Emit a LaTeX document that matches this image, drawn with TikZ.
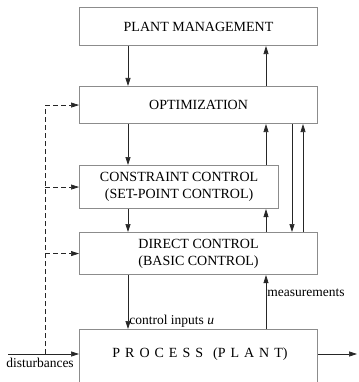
\documentclass[tikz,border=0pt]{standalone}
\usepackage{fontspec}
\setmainfont{Liberation Serif}
\usetikzlibrary{arrows.meta}
\begin{document}
\begin{tikzpicture}[x=1pt,y=-1pt,
  box/.style={draw=black!45,line width=1.1pt,inner sep=0pt,align=center,
    font=\fontsize{14}{17}\selectfont},
  arr/.style={draw=black!85,line width=0.7pt,-{Triangle[length=8pt,width=5pt]}},
  darr/.style={arr,dash pattern=on 5pt off 3pt},
  dline/.style={draw=black!85,line width=0.7pt,dash pattern=on 5pt off 3pt},
  lbl/.style={font=\fontsize{13.5}{16}\selectfont,inner sep=1pt}]
\useasboundingbox (0,0) rectangle (358,382);
\clip (0,0) rectangle (358,382);
\node[box,minimum width=238pt,minimum height=38pt,anchor=north west] (pm) at (79,7) {PLANT MANAGEMENT};
\node[box,minimum width=238pt,minimum height=37pt,anchor=north west] (opt) at (79,86) {OPTIMIZATION};
\node[box,minimum width=199pt,minimum height=43pt,anchor=north west] (cc) at (79,165) {CONSTRAINT CONTROL\\(SET-POINT CONTROL)};
\node[box,minimum width=238pt,minimum height=42pt,anchor=north west] (dc) at (79,232) {DIRECT CONTROL\\(BASIC CONTROL)};
\node[box,minimum width=238pt,minimum height=80pt,anchor=north west] (proc) at (79,329) {};
\node[font=\fontsize{14}{17}\selectfont,inner sep=0pt] (proctext) at (200,354)
  {P\hspace{5pt}R\hspace{5pt}O\hspace{5pt}C\hspace{5pt}E\hspace{5pt}S\hspace{5pt}S\hspace{10pt}(P\hspace{5pt}L\hspace{5pt}A\hspace{5pt}N\hspace{5pt}T)};
\coordinate (xa) at (128,0);
\coordinate (xb) at (266,0);
\coordinate (xc) at (292,0);
\coordinate (xd) at (303,0);
\coordinate (xdash) at (45,0);
\coordinate (dstart) at (8,354);
\coordinate (outend) at (357,354);
% vertical connectors
\draw[arr] (pm.south -| xa) -- (opt.north -| xa);
\draw[arr] (opt.north -| xb) -- (pm.south -| xb);
\draw[arr] (opt.south -| xa) -- (cc.north -| xa);
\draw[arr] (cc.north -| xb) -- (opt.south -| xb);
\draw[arr] (cc.south -| xa) -- (dc.north -| xa);
\draw[arr] (dc.north -| xb) -- (cc.south -| xb);
\draw[arr] (opt.south -| xc) -- (dc.north -| xc);
\draw[arr] (dc.north -| xd) -- (opt.south -| xd);
\draw[arr] (dc.south -| xa) -- node[lbl,anchor=west,pos=0.86] (ci) {control inputs \textit{u}} (proc.north -| xa);
\draw[arr] (proc.north -| xb) -- node[lbl,anchor=west,pos=0.67] (meas) {measurements} (dc.south -| xb);
% disturbances
\draw[arr] (dstart) -- (dstart -| proc.west);
\node[lbl,anchor=north] (dist) at (40,357) {disturbances};
\draw[dline] (dstart -| xdash) -- (opt.west -| xdash);
\draw[darr] (opt.west -| xdash) -- (opt.west);
\draw[darr] (cc.west -| xdash) -- (cc.west);
\draw[darr] (dc.west -| xdash) -- (dc.west);
% output
\draw[arr] (dstart -| proc.east) -- (outend);
\end{tikzpicture}
\end{document}
